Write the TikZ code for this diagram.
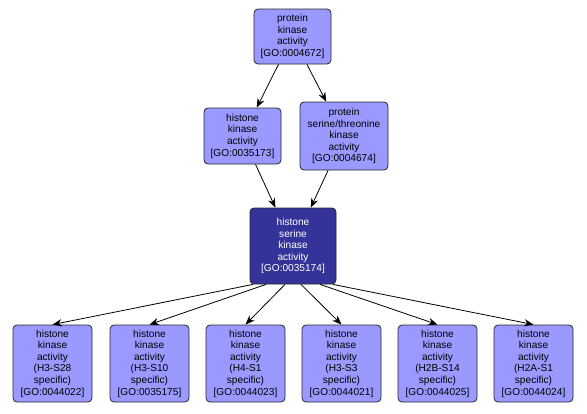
\documentclass[tikz,border=0pt]{standalone}
\usepackage{fontspec}
\setmainfont{Liberation Sans}
\usetikzlibrary{arrows.meta}
\definecolor{lightgo}{RGB}{153,153,255}
\definecolor{darkgo}{RGB}{51,51,153}
\definecolor{edgegray}{RGB}{40,40,40}
\tikzset{
  goterm/.style={draw=edgegray, line width=0.6pt, fill=lightgo, rounded corners=3pt,
    align=center, font=\fontsize{7.6}{8.7}\selectfont, inner sep=0pt, text=black},
  goterm main/.style={goterm, fill=darkgo, text=white},
  goedge/.style={draw=black, line width=0.6pt, -{Stealth[length=7pt,width=5.5pt]}}
}
\begin{document}
\begin{tikzpicture}[x=0.75pt,y=-0.75pt]
\useasboundingbox (0,0) rectangle (587,414);
\node[goterm, minimum width=77*0.75pt, minimum height=55*0.75pt] (pk) at (292.5,36.5)
  {protein\\kinase\\activity\\{[GO:0004672]}};
\node[goterm, minimum width=77*0.75pt, minimum height=56*0.75pt] (hk) at (242.5,136)
  {histone\\kinase\\activity\\{[GO:0035173]}};
\node[goterm, minimum width=88*0.75pt, minimum height=68*0.75pt] (pst) at (344,136)
  {protein\\serine/threonine\\kinase\\activity\\{[GO:0004674]}};
\node[goterm main, minimum width=86*0.75pt, minimum height=76*0.75pt] (hsk) at (293,246)
  {histone\\serine\\kinase\\activity\\{[GO:0035174]}};
\node[goterm, minimum width=79*0.75pt, minimum height=77*0.75pt] (b1) at (52.5,363.5)
  {histone\\kinase\\activity\\(H3-S28\\specific)\\{[GO:0044022]}};
\node[goterm, minimum width=79*0.75pt, minimum height=77*0.75pt] (b2) at (149.5,363.5)
  {histone\\kinase\\activity\\(H3-S10\\specific)\\{[GO:0035175]}};
\node[goterm, minimum width=79*0.75pt, minimum height=77*0.75pt] (b3) at (245.5,363.5)
  {histone\\kinase\\activity\\(H4-S1\\specific)\\{[GO:0044023]}};
\node[goterm, minimum width=79*0.75pt, minimum height=77*0.75pt] (b4) at (341.5,363.5)
  {histone\\kinase\\activity\\(H3-S3\\specific)\\{[GO:0044021]}};
\node[goterm, minimum width=79*0.75pt, minimum height=77*0.75pt] (b5) at (437.5,363.5)
  {histone\\kinase\\activity\\(H2B-S14\\specific)\\{[GO:0044025]}};
\node[goterm, minimum width=79*0.75pt, minimum height=77*0.75pt] (b6) at (533.5,363.5)
  {histone\\kinase\\activity\\(H2A-S1\\specific)\\{[GO:0044024]}};
\draw[goedge] (pk) -- (hk);
\draw[goedge] (pk) -- (pst);
\draw[goedge] (hk) -- (hsk);
\draw[goedge] (pst) -- (hsk);
\foreach \b/\dx in {b1/-40,b2/-27,b3/-8,b4/8,b5/27,b6/40}
  \draw[goedge] ([xshift=\dx*0.75pt]hsk.south) -- (\b.north);
\end{tikzpicture}
\end{document}
